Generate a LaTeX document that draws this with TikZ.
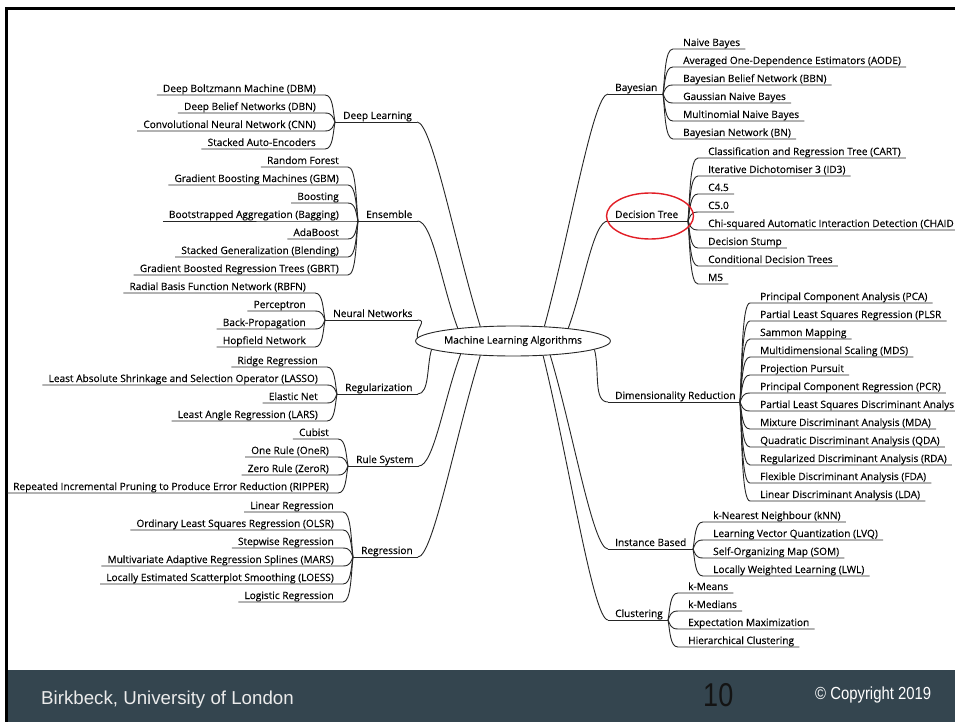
\documentclass[tikz,border=0pt]{standalone}
\usepackage{fontspec}
\usepackage{graphicx}
\usetikzlibrary{shapes.geometric,calc}
\newfontfamily\mapfont[FakeBold=0.2]{Open Sans}
\newfontfamily\footfont{Liberation Sans}
\definecolor{footbar}{RGB}{52,69,79}
\definecolor{markred}{RGB}{226,30,38}

% A family on the left: junction at (#2,#3), label #4, leaves as y/text in #5
\newcommand\branchleft[5]{%
  \coordinate (#1-j) at (#2,#3);
  \node[leaf, anchor=base west] (#1) at (#2+8,#3-3) {#4};
  \coordinate (#1-s) at ([shift={(5,3)}]#1.base east);
  \draw[edge] (#1-j) -- (#1-s);
  \foreach \yy/\lbl [count=\k] in {#5}{%
    \node[leaf, anchor=base east] (#1-\k) at (#2-19,\yy-3) {\lbl};
    \draw[edge] ([shift={(-6,3)}]#1-\k.base west) -- (#2-10,\yy)
      .. controls (#2-2,\yy) and (#2-2,{\yy+0.6*(#3-\yy)}) .. (#1-j);
  }%
}
% A family on the right: junction at (#2,#3), label #4, leaves as y/text in #5
\newcommand\branchright[5]{%
  \coordinate (#1-j) at (#2,#3);
  \coordinate (#1-s) at (608,#3);
  \node[leaf, anchor=base west] (#1) at (615,#3-3) {#4};
  \draw[edge] (#1-s) -- (#1-j);
  \foreach \yy/\lbl [count=\k] in {#5}{%
    \node[leaf, anchor=base west] (#1-\k) at (#2+20,\yy-3) {\lbl};
    \draw[edge] (#1-j) .. controls (#2+2,{\yy+0.6*(#3-\yy)}) and (#2+2,\yy) .. (#2+10,\yy)
      -- ([shift={(5,3)}]#1-\k.base east);
  }%
}

\begin{document}
\begin{tikzpicture}[x=1pt,y=-1pt,
  leaf/.style={font=\mapfont\fontsize{10.1}{11}\selectfont, inner sep=0pt, text=black},
  edge/.style={draw=black!85, line width=0.9pt},
  foot/.style={inner sep=0pt, anchor=base west}]
\useasboundingbox (0,0) rectangle (955,722);
\clip (0,0) rectangle (955,722);
\fill[white] (0,0) rectangle (955,722);

% footer bar and frame
\fill[footbar] (8.3,670) rectangle (955,722);
\draw[line width=3pt] (6.7,722) -- (6.7,8.7) -- (955,8.7);

% root
\node[ellipse, draw=black!85, line width=0.9pt, fill=white, minimum width=160pt,
  minimum height=30pt, inner sep=0pt, font=\mapfont\fontsize{10.1}{11}\selectfont]
  (mla) at (513,341) {Machine Learning Algorithms};

% left families
\branchleft{dl}{335}{122}{Deep Learning}{95/Deep Boltzmann Machine (DBM), 113/Deep Belief Networks (DBN), 131/Convolutional Neural Network (CNN), 149/Stacked Auto-Encoders}
\branchleft{ens}{358}{221}{Ensemble}{167/Random Forest, 185/Gradient Boosting Machines (GBM), 203/Boosting, 221/Bootstrapped Aggregation (Bagging), 239/AdaBoost, 257/Stacked Generalization (Blending), 275/Gradient Boosted Regression Trees (GBRT)}
\branchleft{nn}{325}{320}{Neural Networks}{293/Radial Basis Function Network (RBFN), 311/Perceptron, 329/Back-Propagation, 347/Hopfield Network}
\branchleft{reg}{337}{394}{Regularization}{367/Ridge Regression, 385/Least Absolute Shrinkage and Selection Operator (LASSO), 403/Elastic Net, 421/Least Angle Regression (LARS)}
\branchleft{rule}{348}{466}{Rule System}{439/Cubist, 457/One Rule (OneR), 475/Zero Rule (ZeroR), 493/Repeated Incremental Pruning to Produce Error Reduction (RIPPER)}
\branchleft{rgr}{353}{557}{Regression}{512/Linear Regression, 530/Ordinary Least Squares Regression (OLSR), 548/Stepwise Regression, 566/Multivariate Adaptive Regression Splines (MARS), 584/Locally Estimated Scatterplot Smoothing (LOESS), 602/Logistic Regression}

% right families
\branchright{bay}{663}{94}{Bayesian}{49/Naive Bayes, 67/Averaged One-Dependence Estimators (AODE), 85/Bayesian Belief Network (BBN), 103/Gaussian Naive Bayes, 121/Multinomial Naive Bayes, 139/Bayesian Network (BN)}
\branchright{dt}{688}{221}{Decision Tree}{158/Classification and Regression Tree (CART), 176/Iterative Dichotomiser 3 (ID3), 194/C4.5, 212/C5.0, 230/Chi-squared Automatic Interaction Detection (CHAID, 248/Decision Stump, 266/Conditional Decision Trees, 284/M5}
\branchright{dr}{740}{402}{Dimensionality Reduction}{303/Principal Component Analysis (PCA), 321/Partial Least Squares Regression (PLSR, 339/Sammon Mapping, 357/Multidimensional Scaling (MDS), 375/Projection Pursuit, 393/Principal Component Regression (PCR), 411/Partial Least Squares Discriminant Analys, 429/Mixture Discriminant Analysis (MDA), 447/Quadratic Discriminant Analysis (QDA), 465/Regularized Discriminant Analysis (RDA), 483/Flexible Discriminant Analysis (FDA), 501/Linear Discriminant Analysis (LDA)}
\branchright{ib}{693}{549}{Instance Based}{522/k-Nearest Neighbour (kNN), 540/Learning Vector Quantization (LVQ), 558/Self-Organizing Map (SOM), 576/Locally Weighted Learning (LWL)}
\branchright{cl}{668}{620}{Clustering}{593/k-Means, 611/k-Medians, 629/Expectation Maximization, 647/Hierarchical Clustering}

% root to families
\draw[edge] (dl-s) .. controls +(15,0) and ($(mla.156)!0.4!(dl-s)$) .. (mla.156);
\draw[edge] (ens-s) .. controls +(15,0) and ($(mla.167)!0.4!(ens-s)$) .. (mla.167);
\draw[edge] (nn-s) .. controls +(10,0) and +(-2,-9) .. (mla.178);
\draw[edge] (reg-s) .. controls +(12,0) and ($(mla.186)!0.35!(reg-s)$) .. (mla.186);
\draw[edge] (rule-s) .. controls +(15,0) and ($(mla.194)!0.4!(rule-s)$) .. (mla.194);
\draw[edge] (rgr-s) .. controls +(15,0) and ($(mla.204)!0.4!(rgr-s)$) .. (mla.204);
\draw[edge] (bay-s) .. controls +(-15,0) and ($(mla.25)!0.4!(bay-s)$) .. (mla.25);
\draw[edge] (dt-s) .. controls +(-15,0) and ($(mla.13)!0.4!(dt-s)$) .. (mla.13);
\draw[edge] (dr-s) .. controls +(-15,0) and ($(mla.354)!0.4!(dr-s)$) .. (mla.354);
\draw[edge] (ib-s) .. controls +(-15,0) and ($(mla.339)!0.4!(ib-s)$) .. (mla.339);
\draw[edge] (cl-s) .. controls +(-15,0) and ($(mla.334)!0.4!(cl-s)$) .. (mla.334);

% highlight ring
\node[ellipse, draw=markred, line width=1.4pt, minimum width=87pt, minimum height=46pt,
  inner sep=0pt] (dtmark) at (650,216) {};

% footer texts
\node[foot, font=\footfont\fontsize{18.7}{20}\selectfont, text=white!92!black] (uni) at (41,704) {Birkbeck, University of London};
\node[foot, font=\footfont\fontsize{33}{36}\selectfont, text=black!92] (pg) at (703,706) {\scalebox{0.82}[1]{10}};
\node[foot, font=\footfont\fontsize{17.5}{19}\selectfont, text=white] (copy) at (815,699) {\scalebox{0.85}[1]{© Copyright 2019}};
\end{tikzpicture}
\end{document}
